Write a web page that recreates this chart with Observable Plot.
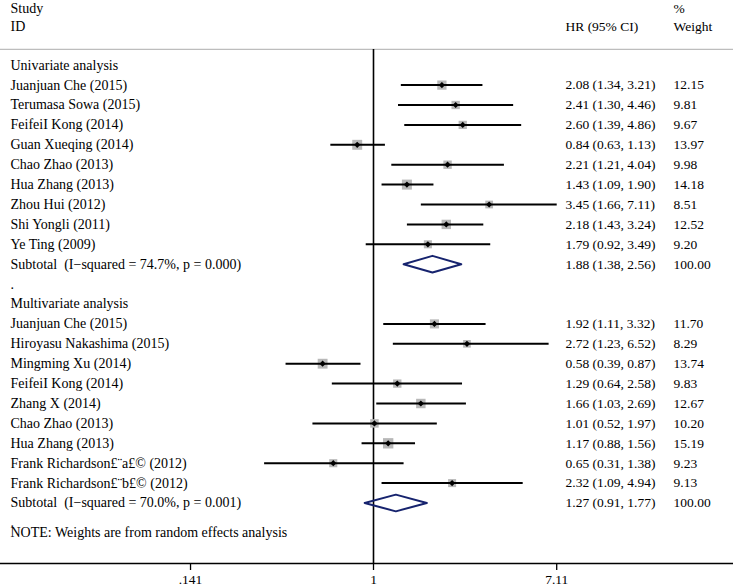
<!DOCTYPE html>
<html>
<head>
<meta charset="utf-8">
<script src="https://cdn.jsdelivr.net/npm/d3@7"></script>
<script src="https://cdn.jsdelivr.net/npm/@observablehq/plot@0.6"></script>
<style>
  html, body { margin: 0; padding: 0; background: #fff; }
  #chart { width: 733px; height: 586px; }
</style>
</head>
<body>
<div id="chart"></div>
<script>
// ---- Data ----
const uniStudies = ["Juanjuan Che (2015)", "Terumasa Sowa (2015)", "FeifeiI Kong (2014)", "Guan Xueqing (2014)", "Chao Zhao (2013)", "Hua Zhang (2013)", "Zhou Hui (2012)", "Shi Yongli (2011)", "Ye Ting (2009)"];
const uniHR = [2.08, 2.41, 2.60, 0.84, 2.21, 1.43, 3.45, 2.18, 1.79];
const uniLo = [1.34, 1.30, 1.39, 0.63, 1.21, 1.09, 1.66, 1.43, 0.92];
const uniHi = [3.21, 4.46, 4.86, 1.13, 4.04, 1.90, 7.11, 3.24, 3.49];
const uniWeight = [12.15, 9.81, 9.67, 13.97, 9.98, 14.18, 8.51, 12.52, 9.20];
const uniSubtotal = {label: "Subtotal  (I\u2212squared = 74.7%, p = 0.000)", hr: 1.88, lo: 1.38, hi: 2.56, w: 100.00};

const multiStudies = ["Juanjuan Che (2015)", "Hiroyasu Nakashima (2015)", "Mingming Xu (2014)", "FeifeiI Kong (2014)", "Zhang X (2014)", "Chao Zhao (2013)", "Hua Zhang (2013)", "Frank Richardson\u00a3\u00a8a\u00a3\u00a9 (2012)", "Frank Richardson\u00a3\u00a8b\u00a3\u00a9 (2012)"];
const multiHR = [1.92, 2.72, 0.58, 1.29, 1.66, 1.01, 1.17, 0.65, 2.32];
const multiLo = [1.11, 1.23, 0.39, 0.64, 1.03, 0.52, 0.88, 0.31, 1.09];
const multiHi = [3.32, 6.52, 0.87, 2.58, 2.69, 1.97, 1.56, 1.38, 4.94];
const multiWeight = [11.70, 8.29, 13.74, 9.83, 12.67, 10.20, 15.19, 9.23, 9.13];
const multiSubtotal = {label: "Subtotal  (I\u2212squared = 70.0%, p = 0.001)", hr: 1.27, lo: 0.91, hi: 1.77, w: 100.00};

const groupTitles = ["Univariate analysis", "Multivariate analysis"];
const noteText = "NOTE: Weights are from random effects analysis";
const tickValues = [0.141, 1, 7.11];
const tickLabels = [".141", "1", "7.11"];

// ---- Build rows ----
const fmt = v => v.toFixed(2);
const studyRows = [], subRows = [], labelRows = [];
let r = 3;
const groups = [
  {title: groupTitles[0], names: uniStudies, hr: uniHR, lo: uniLo, hi: uniHi, w: uniWeight, sub: uniSubtotal},
  {title: groupTitles[1], names: multiStudies, hr: multiHR, lo: multiLo, hi: multiHi, w: multiWeight, sub: multiSubtotal}
];
groups.forEach(g => {
  labelRows.push({row: r++, label: g.title});
  g.names.forEach((n, i) => {
    const d = {row: r++, label: n, hr: g.hr[i], lo: g.lo[i], hi: g.hi[i], w: g.w[i]};
    d.ci = `${fmt(d.hr)} (${fmt(d.lo)}, ${fmt(d.hi)})`;
    d.wt = fmt(d.w);
    studyRows.push(d);
  });
  const s = {row: r++, ...g.sub};
  s.ci = `${fmt(s.hr)} (${fmt(s.lo)}, ${fmt(s.hi)})`;
  s.wt = fmt(s.w);
  subRows.push(s);
  labelRows.push({row: r++, label: "."});
});
const lastRow = r - 1;
const diamondH = 0.42;
const diamondPts = [];
subRows.forEach((s, k) => {
  diamondPts.push({z: k, x: s.lo, y: s.row});
  diamondPts.push({z: k, x: s.hr, y: s.row - diamondH});
  diamondPts.push({z: k, x: s.hi, y: s.row});
  diamondPts.push({z: k, x: s.hr, y: s.row + diamondH});
  diamondPts.push({z: k, x: s.lo, y: s.row});
});
const headerRows = [
  {row: 0.15, left: "Study", w: "%"},
  {row: 1.05, left: "ID", ci: "HR (95% CI)", w: "Weight"}
];
const headerLine = 2.2;
const noteRow = lastRow + 0.48;
const ticks = tickValues.map((v, i) => ({v, label: tickLabels[i]}));

// ---- Layout ----
const W = 733, H = 586;
const pxPerLn = 93.4, xOne = 373;
const FONT = "Liberation Serif";
const FSL = 14, FSR = 13.5;
const colCI = 565, colW = 673, colLeft = 10;
const allRows = studyRows.concat(subRows);

const plot = Plot.plot({
  width: W, height: H,
  marginLeft: 0, marginRight: 0, marginTop: 0, marginBottom: 23,
  style: {fontFamily: FONT, fontSize: FSR + "px", background: "#fff", color: "#000"},
  x: {type: "log", domain: [Math.exp(-xOne / pxPerLn), Math.exp((W - xOne) / pxPerLn)], range: [0, W]},
  y: {domain: [0, 25], range: [5, 5 + 25 * 19.9], axis: null},
  r: {type: "sqrt", domain: [0, 16], range: [0, 6]},
  marks: [
    Plot.ruleY([headerLine], {stroke: "#bdbdbd", strokeWidth: 1.2}),
    Plot.ruleX([1], {insetTop: 49, stroke: "#000", strokeWidth: 1.6}),
    Plot.frame({anchor: "bottom", stroke: "#000", strokeWidth: 1.3}),
    Plot.axisX({ticks: tickValues, text: null, tickSize: 7, stroke: "#000", strokeWidth: 1.3}),
    Plot.text(ticks, {x: "v", text: "label", frameAnchor: "bottom", lineAnchor: "middle", dy: 16, fontSize: FSR}),
    // weight boxes
    Plot.dot(studyRows, {x: "hr", y: "row", r: "w", symbol: "square", fill: "#b8b8b8", stroke: null}),
    // CIs
    Plot.link(studyRows, {x1: "lo", x2: "hi", y1: "row", y2: "row", stroke: "#000", strokeWidth: 2}),
    Plot.dot(studyRows, {x: "hr", y: "row", symbol: "diamond2", r: 2.8, fill: "#000", stroke: null}),
    // subtotal diamonds
    Plot.line(diamondPts, {x: "x", y: "y", z: "z", stroke: "#16236e", strokeWidth: 2, curve: "linear"}),
    // text columns
    Plot.text(headerRows, {y: "row", text: "left", frameAnchor: "left", dx: colLeft, textAnchor: "start", fontSize: FSL}),
    Plot.text(headerRows, {y: "row", text: "ci", frameAnchor: "left", dx: colCI, textAnchor: "start", fontSize: FSR}),
    Plot.text(headerRows, {y: "row", text: "w", frameAnchor: "left", dx: colW, textAnchor: "start", fontSize: FSR}),
    Plot.text(labelRows, {y: "row", text: "label", frameAnchor: "left", dx: colLeft, textAnchor: "start", fontSize: FSL}),
    Plot.text(allRows, {y: "row", text: "label", frameAnchor: "left", dx: colLeft, textAnchor: "start", fontSize: FSL}),
    Plot.text(allRows, {y: "row", text: "ci", frameAnchor: "left", dx: colCI, textAnchor: "start", fontSize: FSR}),
    Plot.text(allRows, {y: "row", text: "wt", frameAnchor: "left", dx: colW, textAnchor: "start", fontSize: FSR}),
    Plot.text([noteText], {y: noteRow, text: d => d, frameAnchor: "left", dx: colLeft, textAnchor: "start", fontSize: FSL})
  ]
});
document.getElementById("chart").appendChild(plot);
</script>
</body>
</html>
